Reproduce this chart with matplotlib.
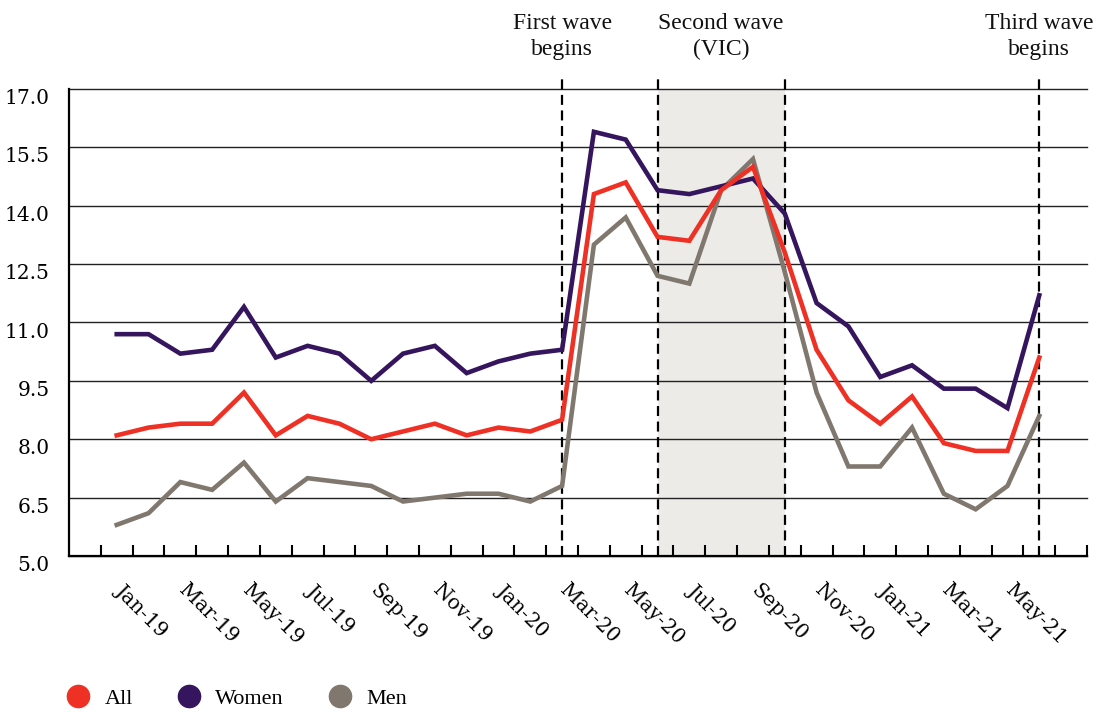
import matplotlib
matplotlib.use("Agg")
import matplotlib.pyplot as plt
from matplotlib.lines import Line2D
from matplotlib.transforms import ScaledTranslation

# monthly values, Jan-19 .. Jun-21
months = ["Jan-19", "Feb-19", "Mar-19", "Apr-19", "May-19", "Jun-19", "Jul-19", "Aug-19",
          "Sep-19", "Oct-19", "Nov-19", "Dec-19", "Jan-20", "Feb-20", "Mar-20", "Apr-20",
          "May-20", "Jun-20", "Jul-20", "Aug-20", "Sep-20", "Oct-20", "Nov-20", "Dec-20",
          "Jan-21", "Feb-21", "Mar-21", "Apr-21", "May-21", "Jun-21"]
all_vals = [8.1, 8.3, 8.4, 8.4, 9.2, 8.1, 8.6, 8.4, 8.0, 8.2, 8.4, 8.1, 8.3, 8.2, 8.5,
            14.3, 14.6, 13.2, 13.1, 14.4, 15.0, 12.8, 10.3, 9.0, 8.4, 9.1, 7.9, 7.7, 7.7, 10.1]
women = [10.7, 10.7, 10.2, 10.3, 11.4, 10.1, 10.4, 10.2, 9.5, 10.2, 10.4, 9.7, 10.0, 10.2, 10.3,
         15.9, 15.7, 14.4, 14.3, 14.5, 14.7, 13.8, 11.5, 10.9, 9.6, 9.9, 9.3, 9.3, 8.8, 11.7]
men = [5.8, 6.1, 6.9, 6.7, 7.4, 6.4, 7.0, 6.9, 6.8, 6.4, 6.5, 6.6, 6.6, 6.4, 6.8,
       13.0, 13.7, 12.2, 12.0, 14.4, 15.2, 12.3, 9.2, 7.3, 7.3, 8.3, 6.6, 6.2, 6.8, 8.6]

# events (month names) and their labels
wave_months = ["Mar-20", "Jun-20", "Oct-20", "Jun-21"]
shade_span = ("Jun-20", "Oct-20")
annotations = [("First wave\nbegins", "Mar-20", None),
               ("Second wave\n(VIC)", "Jun-20", "Oct-20"),
               ("Third wave\nbegins", "Jun-21", None)]

y_ticks = [5.0, 6.5, 8.0, 9.5, 11.0, 12.5, 14.0, 15.5, 17.0]

c_all = "#ee3124"
c_women = "#35155d"
c_men = "#80786f"
c_shade = "#ecebe7"

serif_ticks = ["DejaVu Serif"]
serif_text = ["Liberation Serif", "DejaVu Serif"]

x = list(range(len(months)))
idx = {m: i for i, m in enumerate(months)}

fig = plt.figure(figsize=(11.01, 7.15), dpi=100)
ax = fig.add_axes([69 / 1101, 1 - 556 / 715, (1087 - 69) / 1101, (556 - 89) / 715])

ax.axvspan(idx[shade_span[0]], idx[shade_span[1]], color=c_shade, lw=0, zorder=0.5)

for m in wave_months:
    ax.axvline(idx[m], ymin=0, ymax=1.03, color="black", lw=1.6,
               dashes=(4.5, 2.5), clip_on=False, zorder=1.8)

ax.plot(x, men, color=c_men, lw=3.3, solid_joinstyle="miter", zorder=3)
ax.plot(x, women, color=c_women, lw=3.3, solid_joinstyle="miter", zorder=3.1)
ax.plot(x, all_vals, color=c_all, lw=3.3, solid_joinstyle="miter", zorder=3.2)

ax.set_xlim(-1.5, len(months) + 0.5)
ax.set_ylim(5.0, 17.0)

# y axis
ax.set_yticks(y_ticks)
ax.set_yticklabels([f"{v:.1f}" for v in y_ticks], family=serif_ticks, fontsize=14.5)
plt.setp(ax.get_yticklabels(), va="top")
ax.tick_params(axis="y", length=0, pad=14)
ax.grid(axis="y", color="#222222", lw=1.0)
for gl in ax.get_ygridlines():
    gl.set_clip_on(False)

# x axis: ticks between months, labels on every other month
ax.set_xticks([i - 0.5 for i in range(len(months) + 2)])
ax.set_xticklabels([])
ax.set_xticks(x[::2], months[::2], minor=True)
ax.tick_params(axis="x", which="major", direction="in", length=8, width=1.5, color="black")
ax.tick_params(axis="x", which="minor", length=0, pad=17.5)
shift = ScaledTranslation(8 / 100, 0, fig.dpi_scale_trans)
for lbl in ax.get_xticklabels(minor=True):
    lbl.set_rotation(-45)
    lbl.set_ha("left")
    lbl.set_va("top")
    lbl.set_rotation_mode("anchor")
    lbl.set_family(serif_ticks)
    lbl.set_fontsize(14.5)
    lbl.set_transform(lbl.get_transform() + shift)

for s in ["top", "right"]:
    ax.spines[s].set_visible(False)
for s in ["left", "bottom"]:
    ax.spines[s].set_linewidth(1.6)
    ax.spines[s].set_color("black")

# wave labels above the plot
for text, m1, m2 in annotations:
    xpos = idx[m1] if m2 is None else (idx[m1] + idx[m2]) / 2
    ax.text(xpos, 1.062, text, transform=ax.get_xaxis_transform(), ha="center", va="bottom",
            family=serif_text, fontsize=17, linespacing=1.32, color="#111111")

handles = [Line2D([], [], ls="none", marker="o", markersize=16, color=c) for c in (c_all, c_women, c_men)]
fig.legend(handles, ["All", "Women", "Men"], loc="center left",
           bbox_to_anchor=(67 / 1101, 1 - 699 / 715), ncol=3, frameon=False,
           prop={"family": serif_text, "size": 16}, handlelength=1.0, handletextpad=0.7,
           columnspacing=2.0, borderpad=0, borderaxespad=0)

fig.savefig("out.png", dpi=100)
